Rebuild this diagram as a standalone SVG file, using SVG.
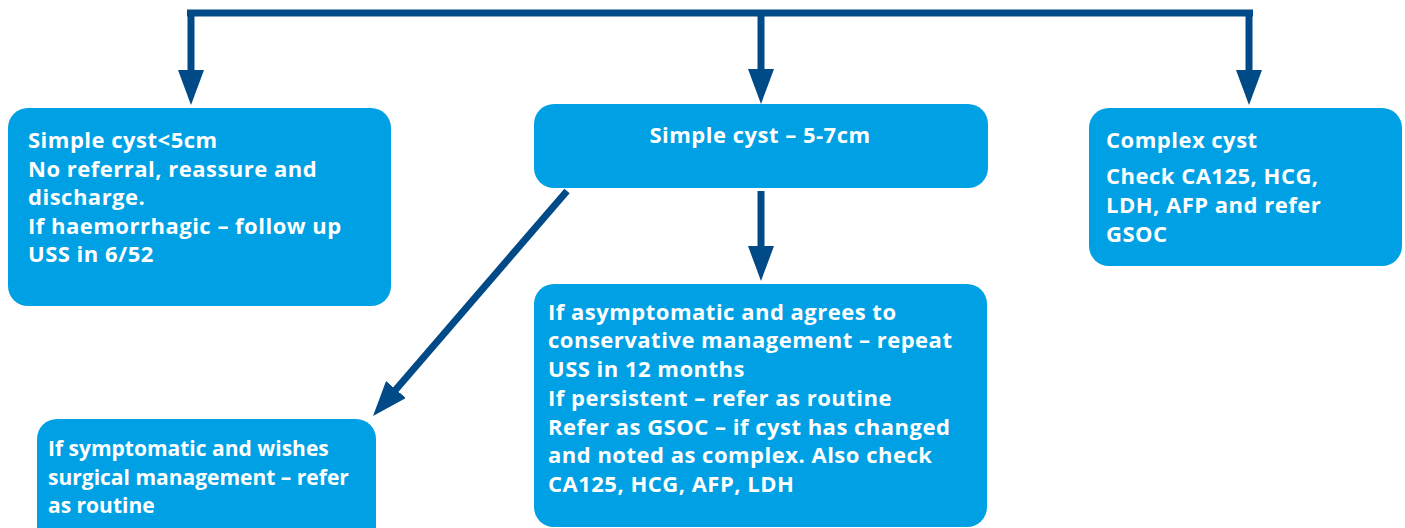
<svg xmlns="http://www.w3.org/2000/svg" width="1405" height="528" viewBox="0 0 1405 528">
<style>
.box{fill:#00A1E4;}
.t{fill:#ffffff;font-family:"Open Sans","Liberation Sans",sans-serif;font-weight:700;font-size:22px;letter-spacing:0.5px;}
.s{font-size:21px;letter-spacing:0;}
.c{fill:none;stroke:#004A87;stroke-width:7;}
</style>
<defs>
<marker id="ah" viewBox="0 0 35 26" refX="2" refY="13" markerWidth="35" markerHeight="26" markerUnits="userSpaceOnUse" orient="auto-start-reverse">
<path d="M0,0 L35,13 L0,26 z" fill="#004A87"/>
</marker>
</defs>
<g id="connectors">
<path class="c" d="M187,13 H1253" stroke-width="8"/>
<path class="c" d="M191,10 V72" marker-end="url(#ah)"/>
<path class="c" d="M761,13 V71" marker-end="url(#ah)"/>
<path class="c" d="M1249,10 V72" marker-end="url(#ah)"/>
<path class="c" d="M761,191 V248" marker-end="url(#ah)"/>
<path class="c" d="M567,191 L394.6,391" marker-end="url(#ah)"/>
</g>
<g id="n1">
<rect class="box" x="8" y="108" width="383" height="198" rx="20"/>
<text class="t" x="28" y="148">Simple cyst&lt;5cm</text>
<text class="t" x="28" y="177">No referral, reassure and</text>
<text class="t" x="28" y="205">discharge.</text>
<text class="t" x="28" y="234">If haemorrhagic – follow up</text>
<text class="t" x="28" y="262">USS in 6/52</text>
</g>
<g id="n2">
<rect class="box" x="534" y="104" width="454" height="84" rx="20"/>
<text class="t" x="760" y="143" text-anchor="middle">Simple cyst – 5-7cm</text>
</g>
<g id="n3">
<rect class="box" x="1089" y="108" width="313" height="158" rx="20"/>
<text class="t" x="1106" y="148">Complex cyst</text>
<text class="t" x="1106" y="184">Check CA125, HCG,</text>
<text class="t" x="1106" y="213">LDH, AFP and refer</text>
<text class="t" x="1106" y="242">GSOC</text>
</g>
<g id="n4">
<rect class="box" x="534" y="284" width="453" height="243" rx="20"/>
<text class="t" x="548" y="320">If asymptomatic and agrees to</text>
<text class="t" x="548" y="348">conservative management – repeat</text>
<text class="t" x="548" y="377">USS in 12 months</text>
<text class="t" x="548" y="406">If persistent – refer as routine</text>
<text class="t" x="548" y="435">Refer as GSOC – if cyst has changed</text>
<text class="t" x="548" y="463">and noted as complex. Also check</text>
<text class="t" x="548" y="492">CA125, HCG, AFP, LDH</text>
</g>
<g id="n5">
<rect class="box" x="37" y="419" width="339" height="130" rx="20"/>
<text class="t s" x="48" y="456">If symptomatic and wishes</text>
<text class="t s" x="48" y="485">surgical management – refer</text>
<text class="t s" x="48" y="513">as routine</text>
</g>
</svg>
